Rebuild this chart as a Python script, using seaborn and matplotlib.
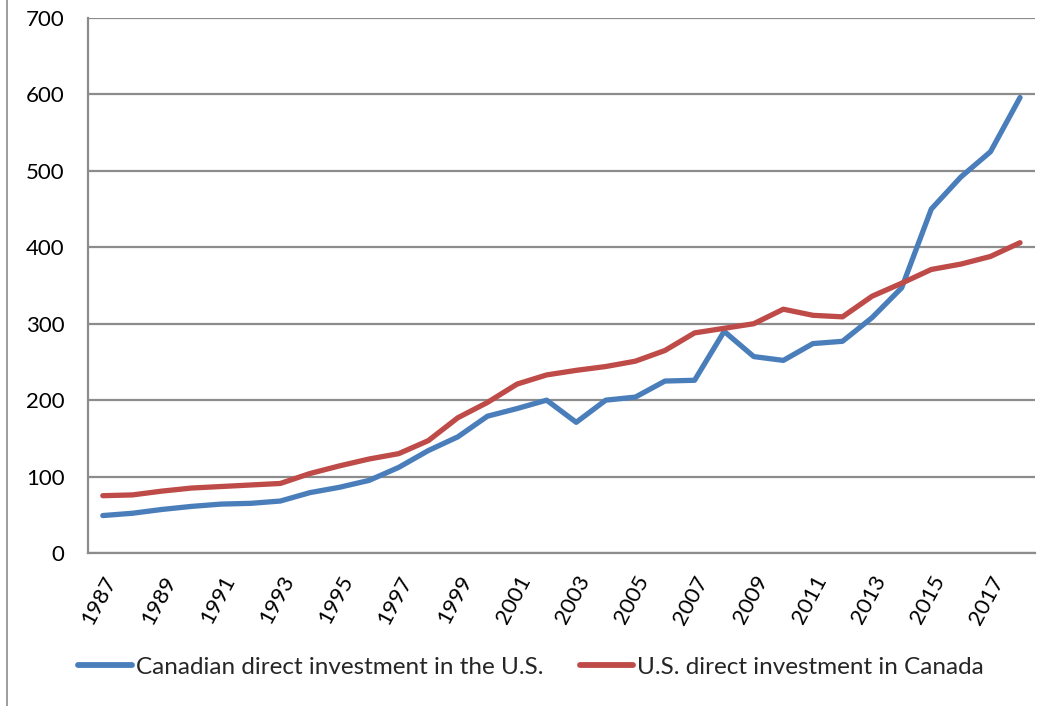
import pandas as pd
import matplotlib.pyplot as plt
import seaborn as sns
from matplotlib.lines import Line2D

# Values (billions)
years = list(range(1987, 2019))
canada_in_us = [49, 52, 57, 61, 64, 65, 68, 79, 86, 95, 112, 134, 152, 179, 189, 200,
                171, 200, 204, 225, 226, 290, 257, 252, 274, 277, 308, 347, 450, 492, 525, 596]
us_in_canada = [75, 76, 81, 85, 87, 89, 91, 104, 114, 123, 130, 147, 177, 197, 221, 233,
                239, 244, 251, 265, 288, 294, 300, 319, 311, 309, 336, 353, 371, 378, 388, 406]
series_names = ["Canadian direct investment in the U.S.", "U.S. direct investment in Canada"]
y_ticks = [0, 100, 200, 300, 400, 500, 600, 700]
x_ticks = list(range(1987, 2018, 2))

df = pd.DataFrame({"year": years * 2,
                   "value": canada_in_us + us_in_canada,
                   "series": [series_names[0]] * len(years) + [series_names[1]] * len(years)})

sns.set_style("white")
plt.rcParams['font.family'] = ['Lato', 'DejaVu Sans']

fig = plt.figure(figsize=(10.39, 7.06), dpi=100)
ax = fig.add_axes([0.0847, 0.2167, 0.9113, 0.7578])

sns.lineplot(data=df, x="year", y="value", hue="series",
             palette=["#4A7EBB", "#BE4B48"], linewidth=3.8, ax=ax)

ax.set_xlim(1986.5, 2018.5)
ax.set_ylim(0, 700)
ax.set_yticks(y_ticks)
ax.set_xticks(x_ticks)
ax.set_xticklabels([str(x) for x in x_ticks], rotation=62, ha='right',
                   rotation_mode='anchor', fontsize=16, color='#000000')
ax.tick_params(axis='y', labelsize=16, length=7, color='#8c8c8c', width=1.5, pad=10,
               labelcolor='#000000')
ax.tick_params(axis='x', length=0, pad=14)
ax.grid(axis='y', color='#8c8c8c', linewidth=1.6)
ax.set_axisbelow(True)
ax.set_xlabel('')
ax.set_ylabel('')

for side in ['top', 'right']:
    ax.spines[side].set_visible(False)
for side in ['left', 'bottom']:
    ax.spines[side].set_color('#8c8c8c')
    ax.spines[side].set_linewidth(1.6)

handles, labels = ax.get_legend_handles_labels()
for h in handles:
    h.set_linewidth(4.2)
ax.legend(handles, labels, loc='center', bbox_to_anchor=(0.511, 0.055),
          bbox_transform=fig.transFigure, ncol=2, frameon=False, fontsize=17.5,
          handlelength=2.2, handletextpad=0.15, columnspacing=1.5)

# chart border on the left edge
fig.add_artist(Line2D([0.007, 0.007], [0, 1], transform=fig.transFigure,
                      color='#8c8c8c', linewidth=1.2))

fig.savefig("out.png", dpi=100)
